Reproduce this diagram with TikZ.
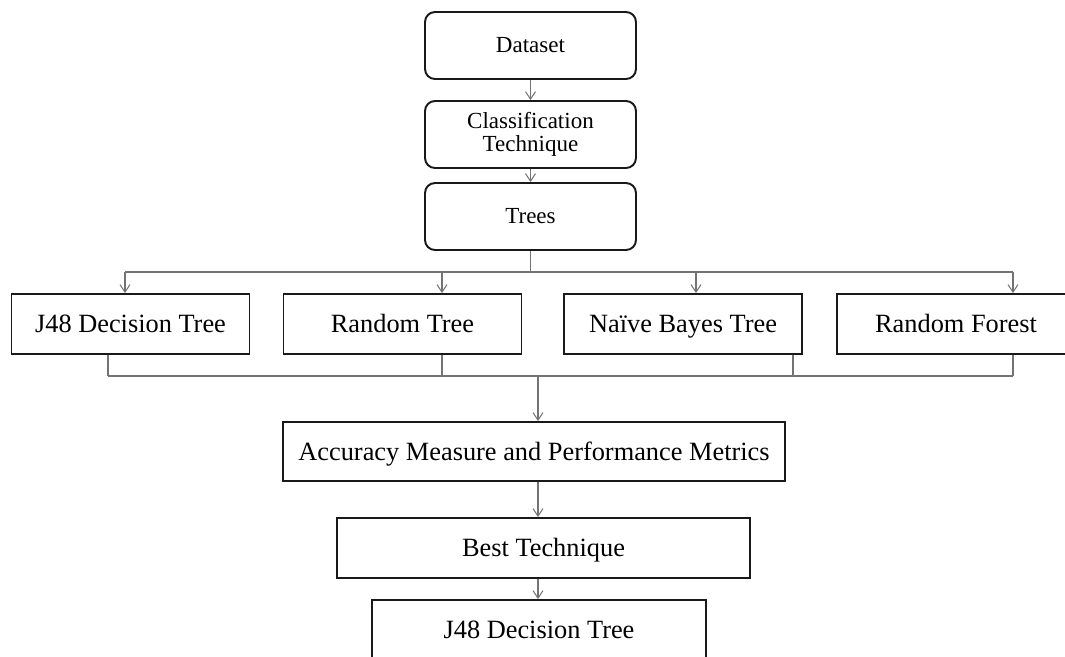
\documentclass[tikz,border=0pt]{standalone}
\usepackage{fontspec}
\setmainfont{Liberation Serif}
\usetikzlibrary{arrows.meta}

\begin{document}
\begin{tikzpicture}[x=0.02cm, y=-0.02cm,
        roundbox/.style={draw=black!90, line width=1.1pt, rounded corners=0.2cm,
            minimum width=4.22cm, minimum height=1.34cm, inner sep=0pt, align=center,
            font=\fontsize{13.1}{13.4}\selectfont},
        treebox/.style={draw=black!90, line width=1.1pt, minimum width=4.76cm,
            minimum height=1.2cm, inner sep=0pt, text height=10pt, text depth=0pt,
            font=\fontsize{15}{17}\selectfont},
        conn/.style={draw=black!55, line width=0.6pt},
        arr/.style={conn, -{Straight Barb[length=0.15cm, width=0.2cm]}}]

        \clip (0,0) rectangle (1065,656);

        % Pasos superiores
        \node[roundbox] (dataset) at (530.5,45.5) {Dataset};
        \node[roundbox] (classif) at (530.5,134.5) {Classification\\Technique};
        \node[roundbox] (trees) at (530.5,216.5) {Trees};

        \draw[arr] (dataset) -- (classif);
        \draw[arr] (classif) -- (trees);

        % Arboles
        \node[treebox] (j48) at (130.5,324) {J48 Decision Tree};
        \node[treebox] (rtree) at (402.5,324) {Random Tree};
        \node[treebox] (naive) at (683,324) {Naïve Bayes Tree};
        \node[treebox] (forest) at (956,324) {Random Forest};

        \coordinate (up1) at (125,272);
        \coordinate (up2) at (442,272);
        \coordinate (up3) at (696,272);
        \coordinate (up4) at (1013,272);
        \coordinate (lo1) at (108,376);
        \coordinate (lo2) at (442,376);
        \coordinate (lo3) at (793,376);
        \coordinate (lo4) at (1013,376);
        \coordinate (mid) at (538,376);

        \draw[conn] (trees.south) -- (trees.south |- up1);
        \draw[conn] (up1) -- (up4);
        \foreach \c/\n in {up1/j48, up2/rtree, up3/naive, up4/forest} {
            \draw[arr] (\c) -- (\c |- \n.north);
        }
        \foreach \c/\n in {lo1/j48, lo2/rtree, lo3/naive, lo4/forest} {
            \draw[conn] (\n.south -| \c) -- (\c);
        }
        \draw[conn] (lo1) -- (lo4);

        % Pasos inferiores
        \node[treebox, minimum width=10.04cm, minimum height=1.18cm] (acc) at (534,451.5)
            {Accuracy Measure and Performance Metrics};
        \node[treebox, minimum width=8.26cm] (best) at (543.5,548) {Best Technique};
        \node[treebox, minimum width=6.68cm] (final) at (539,630) {J48 Decision Tree};

        \draw[arr] (mid) -- (mid |- acc.north);
        \draw[arr] (acc.south -| mid) -- (mid |- best.north);
        \draw[arr] (best.south -| mid) -- (mid |- final.north);
    \end{tikzpicture}
\end{document}
